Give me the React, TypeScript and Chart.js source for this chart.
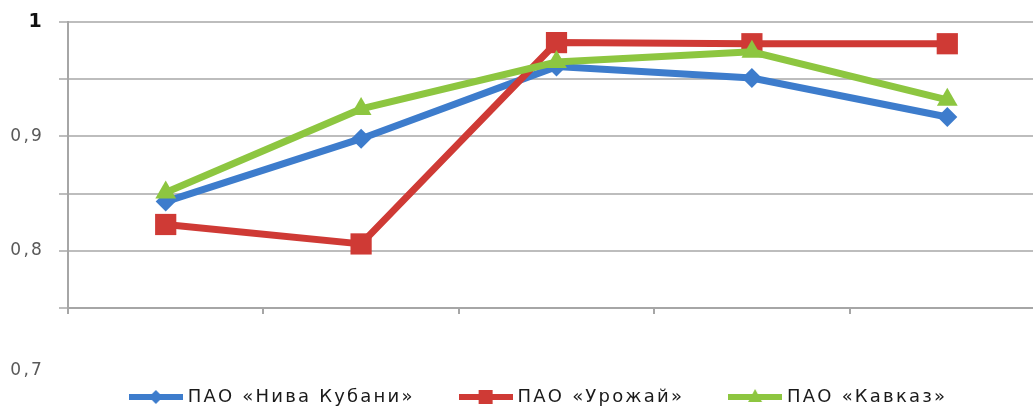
import React, { useEffect, useRef } from 'react';
import { Chart, registerables } from 'chart.js';

Chart.register(...registerables);

const categories = ['1', '2', '3', '4', '5'];
const seriesNames = ['ПАО «Нива Кубани»', 'ПАО «Урожай»', 'ПАО «Кавказ»'];
const nivaKubani = [0.843, 0.898, 0.961, 0.951, 0.917];
const urozhai = [0.823, 0.806, 0.982, 0.981, 0.981];
const kavkaz = [0.851, 0.924, 0.965, 0.974, 0.932];
const yLabeledTicks = [1, 0.9, 0.8, 0.7];

const COLORS = ['#3d7ccc', '#cf3a35', '#8dc640'];
const STYLES = ['rectRot', 'rect', 'triangle'];
const RADII = [10, 15, 12];
const FONT = '"DejaVu Sans", sans-serif';

function fmt(v: number) {
  const r = Math.round(v * 100) / 100;
  return String(r).replace('.', ',');
}

function makeLegendSample(color: string, style: string) {
  const c = document.createElement('canvas');
  c.width = 54;
  c.height = 20;
  const g = c.getContext('2d') as CanvasRenderingContext2D;
  g.strokeStyle = color;
  g.fillStyle = color;
  g.lineWidth = 6;
  g.beginPath();
  g.moveTo(0, 10);
  g.lineTo(54, 10);
  g.stroke();
  const cx = 27, cy = 10;
  g.beginPath();
  if (style === 'rectRot') {
    g.moveTo(cx - 7, cy);
    g.lineTo(cx, cy - 7);
    g.lineTo(cx + 7, cy);
    g.lineTo(cx, cy + 7);
  } else if (style === 'rect') {
    g.rect(cx - 7, cy - 7, 14, 14);
  } else {
    g.moveTo(cx, cy - 8);
    g.lineTo(cx + 7, cy + 5);
    g.lineTo(cx - 7, cy + 5);
  }
  g.closePath();
  g.fill();
  return c;
}

const extrasPlugin = {
  id: 'extras',
  beforeUpdate(chart: any) {
    (chart.ctx as any).letterSpacing = '2.2px';
  },
  afterLayout(chart: any) {
    const lg = chart.legend;
    if (lg) {
      lg.left += 11;
      lg.right += 11;
      lg.top += 6;
      lg.bottom += 6;
    }
  },
  afterDraw(chart: any) {
    const ys = chart.scales.y;
    const ctx = chart.ctx;
    ctx.save();
    (ctx as any).letterSpacing = '2.2px';
    ctx.font = '17px ' + FONT;
    ctx.fillStyle = '#595959';
    ctx.textAlign = 'right';
    ctx.textBaseline = 'middle';
    const x = chart.chartArea.left - 9 - 15;
    yLabeledTicks.forEach((v) => {
      if (v < ys.min) {
        ctx.fillText(fmt(v), x, ys.getPixelForValue(v) + 5);
      }
    });
    ctx.restore();
  },
};

export default function App() {
  const ref = useRef<HTMLCanvasElement | null>(null);

  useEffect(() => {
    document.body.style.margin = '0';
    document.body.style.overflow = 'hidden';
    const canvas = ref.current;
    if (!canvas) return;
    const values = [nivaKubani, urozhai, kavkaz];
    const samples = COLORS.map((c, i) => makeLegendSample(c, STYLES[i]));
    const chart = new Chart(canvas, {
      type: 'line',
      data: {
        labels: categories,
        datasets: values.map((data, i) => ({
          label: seriesNames[i],
          data,
          borderColor: COLORS[i],
          backgroundColor: COLORS[i],
          borderWidth: 7,
          pointStyle: STYLES[i] as any,
          pointRadius: RADII[i],
          pointBorderWidth: 0,
          pointBackgroundColor: COLORS[i],
          order: 2 - i,
          tension: 0,
        })),
      },
      options: {
        animation: false,
        responsive: false,
        layout: { padding: { top: 22, right: 2, left: 0, bottom: 0 } },
        plugins: {
          legend: {
            position: 'bottom',
            labels: {
              usePointStyle: true,
              pointStyleWidth: 46,
              boxHeight: 18,
              padding: 48,
              color: '#1a1a1a',
              font: { family: FONT, size: 18 },
              generateLabels: () =>
                seriesNames.map((name, i) => ({
                  text: name,
                  pointStyle: samples[i] as any,
                  fillStyle: COLORS[i],
                  strokeStyle: COLORS[i],
                  lineWidth: 0,
                  hidden: false,
                  datasetIndex: i,
                  fontColor: '#1a1a1a',
                })),
            },
          },
          tooltip: { enabled: false },
        },
        scales: {
          x: {
            offset: true,
            afterFit: (s: any) => {
              s.height = 26;
            },
            grid: {
              offset: true,
              drawOnChartArea: false,
              drawTicks: true,
              tickLength: 6,
              color: '#a6a6a6',
              lineWidth: 2,
            },
            border: { color: '#a6a6a6', width: 2 },
            ticks: { display: false },
          },
          y: {
            min: 0.75,
            max: 1,
            afterFit: (s: any) => {
              s.width = 68;
              s.paddingTop = 0;
              s.paddingBottom = 0;
            },
            ticks: {
              stepSize: 0.05,
              padding: 15,
              color: (ctx: any) => (ctx.tick && ctx.tick.value === 1 ? '#111111' : '#595959'),
              font: (ctx: any) => ({
                family: FONT,
                size: ctx.tick && ctx.tick.value === 1 ? 19 : 17,
                weight: ctx.tick && ctx.tick.value === 1 ? 'bold' : 'normal',
              }),
              callback: (v: any) => {
                const r = Math.round(Number(v) * 100) / 100;
                return yLabeledTicks.includes(r) ? fmt(r) : '';
              },
            },
            grid: { color: '#bdbdbd', lineWidth: 2, tickLength: 9 },
            border: { color: '#a6a6a6', width: 2 },
          },
        },
      },
      plugins: [extrasPlugin],
    });
    return () => chart.destroy();
  }, []);

  return (
    <div style={{ width: 1033, height: 410, overflow: 'hidden', position: 'relative', background: '#fff' }}>
      <canvas ref={ref} width={1060} height={410} style={{ display: 'block' }} />
    </div>
  );
}
